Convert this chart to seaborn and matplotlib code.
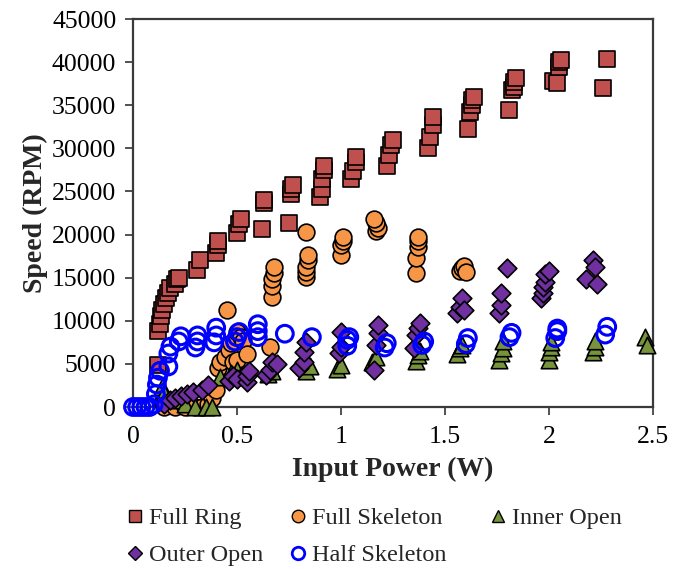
import matplotlib
matplotlib.use("Agg")
import matplotlib.pyplot as plt
import seaborn as sns
import pandas as pd
from matplotlib.lines import Line2D

# ---------------- data ----------------
fr_x = [0.12, 0.12, 0.13, 0.135, 0.14, 0.15, 0.16, 0.17, 0.18, 0.20, 0.21, 0.22,
        0.31, 0.32, 0.40, 0.41, 0.41, 0.50, 0.51, 0.52, 0.62, 0.63, 0.63,
        0.75, 0.76, 0.76, 0.77, 0.90, 0.91, 0.91, 0.92, 0.92,
        1.05, 1.06, 1.07, 1.07, 1.22, 1.23, 1.24, 1.25,
        1.42, 1.43, 1.44, 1.44, 1.61, 1.62, 1.63, 1.63, 1.64,
        1.81, 1.82, 1.83, 1.83, 1.84, 2.02, 2.04, 2.05, 2.05, 2.06, 2.26, 2.28]
fr_y = [4900, 8800, 9600, 10500, 11200, 12000, 12600, 13200, 13800, 14300, 14800, 15000,
        15900, 17000, 17900, 18800, 19300, 20200, 21200, 21800, 20700, 23700, 24000,
        21300, 24700, 25300, 25800, 24300, 25300, 26400, 27500, 28000,
        26400, 27400, 28400, 29000, 28000, 29200, 30400, 31000,
        30000, 31300, 32700, 33600, 32200, 34200, 35000, 35600, 36000,
        34400, 36800, 37100, 37700, 38100, 37800, 37600, 39400, 40000, 40200, 37000, 40400]

fs_x = [0.15, 0.20, 0.25, 0.30, 0.33, 0.36, 0.38, 0.40, 0.41, 0.42, 0.44, 0.45, 0.46,
        0.47, 0.48, 0.50, 0.50, 0.52, 0.53, 0.55,
        0.66, 0.67, 0.67, 0.67, 0.68, 0.68, 0.83, 0.83, 0.83, 0.84, 0.84, 0.83,
        1.00, 1.00, 1.01, 1.01, 1.17, 1.18, 1.17, 1.16,
        1.36, 1.36, 1.37, 1.37, 1.37, 1.57, 1.58, 1.59, 1.60]
fs_y = [0, 0, 0, 0, 0, 300, 1000, 2000, 4500, 5200, 5800, 11200, 6600,
        7400, 5200, 5500, 8700, 8100, 7700, 6200,
        7000, 12800, 14000, 14800, 15500, 16200, 15100, 15600, 16200, 17000, 17600, 20300,
        17600, 18800, 19300, 19700, 20400, 20800, 21300, 21800,
        15500, 17300, 18500, 19200, 19700, 15800, 16100, 16300, 15600]

io_x = [0.13, 0.14, 0.15, 0.20, 0.25, 0.30, 0.35, 0.38, 0.42, 0.47, 0.50, 0.52,
        0.65, 0.67, 0.83, 0.85, 0.98, 1.00, 1.15, 1.17, 1.36, 1.37, 1.38,
        1.56, 1.57, 1.58, 1.76, 1.77, 1.78, 1.78, 2.00, 2.00, 2.01, 2.01,
        2.21, 2.22, 2.22, 2.46, 2.47]
io_y = [1200, 2300, 1600, 800, 400, 0, 0, 0, 3500, 4000, 4300, 3700,
        3800, 4200, 4200, 4800, 4400, 4900, 5200, 5800, 5300, 6000, 6500,
        6200, 6800, 7200, 5500, 6300, 6900, 7600, 5500, 6400, 7000, 7500,
        6400, 7000, 7700, 8100, 7200]

oo_x = [0.15, 0.18, 0.20, 0.23, 0.26, 0.29, 0.33, 0.36, 0.46, 0.48, 0.50, 0.55, 0.55, 0.56,
        0.64, 0.66, 0.67, 0.69, 0.80, 0.82, 0.82, 0.83, 0.99, 1.00, 1.00,
        1.16, 1.17, 1.18, 1.18, 1.35, 1.36, 1.37, 1.38,
        1.56, 1.57, 1.58, 1.59, 1.76, 1.77, 1.77, 1.80,
        1.96, 1.97, 1.97, 1.98, 1.98, 2.00, 2.18, 2.21, 2.22, 2.23]
oo_y = [300, 800, 1000, 1300, 1500, 1700, 2000, 2500, 3000, 3600, 3300, 2900, 3600, 4200,
        3700, 4300, 5200, 5000, 4500, 5200, 6400, 7500, 6300, 7000, 8700,
        4300, 7200, 8600, 9500, 6800, 8300, 9200, 9700,
        10900, 11600, 12600, 11200, 10900, 11800, 13200, 16100,
        12600, 13200, 13900, 14500, 15400, 15800, 14800, 17000, 16200, 14300]

hs_x = [0.00, 0.02, 0.04, 0.06, 0.08, 0.10, 0.11, 0.115, 0.12, 0.13, 0.17, 0.17, 0.18,
        0.22, 0.23, 0.30, 0.31, 0.31, 0.39, 0.40, 0.40, 0.49, 0.50, 0.51,
        0.60, 0.60, 0.60, 0.73, 0.86, 1.03, 1.03, 1.04, 1.21, 1.22,
        1.39, 1.40, 1.60, 1.61, 1.81, 1.82, 2.03, 2.04, 2.04, 2.27, 2.28]
hs_y = [0, 0, 0, 0, 0, 300, 1500, 2600, 3400, 4200, 4700, 6200, 7000,
        7600, 8200, 6900, 7600, 8300, 7500, 8300, 9200, 7600, 8100, 8700,
        8100, 8800, 9600, 8500, 8100, 7100, 7800, 8100, 6900, 7400,
        7200, 7600, 7300, 8000, 8100, 8600, 8000, 8800, 9100, 8400, 9300]

series_names = ["Full Ring", "Full Skeleton", "Inner Open", "Outer Open", "Half Skeleton"]
# ---------------------------------------

sns.set_theme(style="white")
plt.rcParams['font.family'] = ['Liberation Serif', 'DejaVu Serif']

fig = plt.figure(figsize=(6.85, 5.69), dpi=100)
ax = fig.add_axes([133/685, 1-407/569, (653-133)/685, (407-19)/569])

styles = {
    "Full Ring":     dict(marker="s", color="#C0504D", edgecolor="black", s=130, linewidth=1.2),
    "Full Skeleton": dict(marker="o", color="#F79646", edgecolor="black", s=145, linewidth=1.2),
    "Inner Open":    dict(marker="^", color="#77933C", edgecolor="black", s=140, linewidth=1.2),
    "Outer Open":    dict(marker="D", color="#7030A0", edgecolor="black", s=90, linewidth=1.2),
    "Half Skeleton": dict(marker="o", facecolor="none", edgecolor="#0000FF", s=145, linewidth=2.2),
}
data = {
    "Full Ring": (fr_x, fr_y),
    "Full Skeleton": (fs_x, fs_y),
    "Inner Open": (io_x, io_y),
    "Outer Open": (oo_x, oo_y),
    "Half Skeleton": (hs_x, hs_y),
}

for name in series_names:
    xs, ys = data[name]
    df = pd.DataFrame({"x": xs, "y": ys})
    st = styles[name]
    kw = dict(marker=st["marker"], s=st["s"], linewidth=st["linewidth"], edgecolor=st["edgecolor"])
    if "facecolor" in st:
        kw["facecolor"] = "none"
    else:
        kw["color"] = st["color"]
    sns.scatterplot(data=df, x="x", y="y", ax=ax, legend=False, zorder=3, clip_on=False, **kw)

ax.set_xlim(0, 2.5)
ax.set_ylim(0, 45000)
ax.set_xticks([0, 0.5, 1, 1.5, 2, 2.5])
ax.set_xticklabels(["0", "0.5", "1", "1.5", "2", "2.5"])
ax.set_yticks(range(0, 45001, 5000))
ax.set_yticklabels([str(v) for v in range(0, 45001, 5000)])
ax.tick_params(axis="both", direction="out", length=6, width=1.2, colors="#333333",
               labelsize=18.5, labelcolor="black")
ax.tick_params(axis="y", pad=6)
ax.tick_params(axis="x", pad=8)
ax.tick_params(axis="both", which="both", bottom=True, left=True, top=False, right=False)
for sp in ax.spines.values():
    sp.set_visible(True)
    sp.set_color("#3a3a3a")
    sp.set_linewidth(1.6)

ax.set_xlabel("Input Power (W)", fontsize=20, fontweight="bold", labelpad=6)
ax.set_ylabel("Speed (RPM)", fontsize=20, fontweight="bold", labelpad=3)

def handle(name):
    st = styles[name]
    if name == "Half Skeleton":
        return Line2D([], [], linestyle="none", marker="o", markersize=9,
                      markerfacecolor="none", markeredgecolor="#0000FF", markeredgewidth=2)
    return Line2D([], [], linestyle="none", marker=st["marker"],
                  markersize=9 if st["marker"] != "D" else 7,
                  markerfacecolor=st["color"], markeredgecolor="black", markeredgewidth=1)

columns = [(["Full Ring", "Outer Open"], 128),
           (["Full Skeleton", "Half Skeleton"], 291),
           (["Inner Open"], 491)]
for names, xpix in columns:
    leg = fig.legend([handle(n) for n in names], names, loc="upper left",
                     bbox_to_anchor=(xpix/685, 1-507/569), ncol=1, frameon=False,
                     fontsize=17.5, handlelength=0.6, handletextpad=0.25,
                     labelspacing=0.62, borderaxespad=0, borderpad=0)

fig.savefig("out.png", dpi=100)
